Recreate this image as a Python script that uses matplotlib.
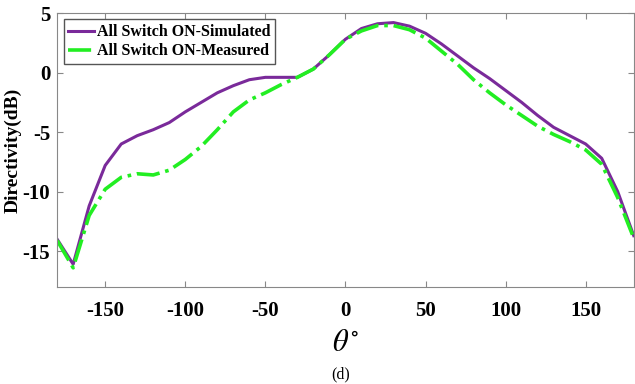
import numpy as np
import matplotlib.pyplot as plt

# angle grid (deg) and directivity (dB)
theta = [-180, -170, -160, -150, -140, -130, -120, -110, -100, -90, -80, -70, -60,
         -50, -40, -30, -20, -10, 0, 10, 20, 30, 40, 50, 60, 70, 80, 90, 100,
         110, 120, 130, 140, 150, 160, 170, 180]
simulated = [-14.0, -16.1, -11.2, -7.8, -6.0, -5.3, -4.8, -4.2, -3.3, -2.5, -1.7, -1.1, -0.6,
             -0.4, -0.4, -0.4, 0.3, 1.5, 2.8, 3.7, 4.1, 4.2, 3.9, 3.3, 2.4, 1.4, 0.4, -0.5, -1.5,
             -2.5, -3.6, -4.6, -5.3, -6.0, -7.2, -10.0, -13.7]
measured = [-14.1, -16.4, -12.0, -9.8, -8.8, -8.5, -8.6, -8.2, -7.3, -6.2, -4.8, -3.3, -2.3,
            -1.7, -1.0, -0.4, 0.3, 1.5, 2.8, 3.5, 3.95, 3.95, 3.6, 2.9, 1.8, 0.7, -0.6, -1.7, -2.7,
            -3.6, -4.5, -5.2, -5.8, -6.5, -7.7, -10.5, -13.9]

xticks = [-150, -100, -50, 0, 50, 100, 150]
yticks = [-15, -10, -5, 0, 5]

plt.rcParams['font.family'] = ['Liberation Serif', 'DejaVu Serif']
plt.rcParams['mathtext.fontset'] = 'stix'
plt.rcParams['axes.unicode_minus'] = False

fig = plt.figure(figsize=(6.35, 3.84), dpi=100)
ax = fig.add_axes([0.09, 0.253, 0.908, 0.713])

ax.plot(theta, simulated, color='#7a2a9a', lw=2.2, label='All Switch ON-Simulated')
ax.plot(theta, measured, color='#22ee22', lw=2.6, ls='-.', label='All Switch ON-Measured')

ax.set_xlim(-180, 180)
ax.set_ylim(-18, 5)
ax.set_xticks(xticks)
ax.set_yticks(yticks)
ax.tick_params(direction='in', top=True, right=True, length=4, color='#888888',
               labelsize=15)
ax.tick_params(axis='x', pad=10)
ax.tick_params(axis='y', pad=5)
for lab in ax.get_xticklabels() + ax.get_yticklabels():
    lab.set_fontweight('bold')
for s in ax.spines.values():
    s.set_color('#888888')

ax.set_ylabel('Directivity(dB)', fontsize=14, fontweight='bold')
ax.yaxis.set_label_coords(-0.062, 0.5)
ax.set_xlabel(r'$\theta^{\circ}$', fontsize=22, labelpad=6)

leg = ax.legend(loc='upper left', prop={'weight': 'bold', 'size': 11.5}, handlelength=1.6,
                handletextpad=0.2, borderpad=0.3, labelspacing=0.2, fancybox=False,
                framealpha=1, borderaxespad=0.4)
leg.get_frame().set_edgecolor('#555555')

fig.text(0.537, 0.005, '(d)', ha='center', va='bottom', fontsize=11.5)

fig.savefig('out.png', dpi=100)
